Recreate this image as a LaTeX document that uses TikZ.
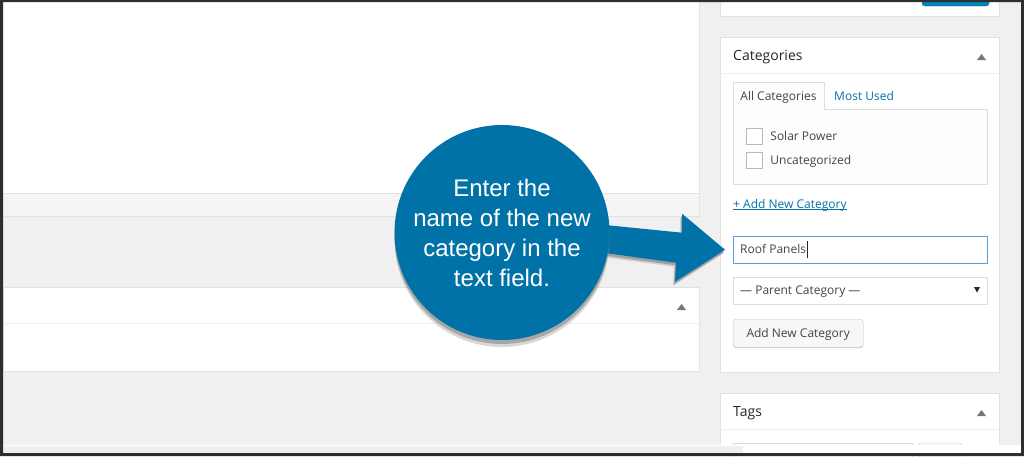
\documentclass[tikz,border=0pt]{standalone}
\usepackage{fontspec}
\setmainfont{Open Sans}
\newfontfamily\calloutfont{Liberation Sans}
\usetikzlibrary{positioning,shadows}

\definecolor{wpbg}{HTML}{F0F0F0}
\definecolor{wpline}{HTML}{E2E2E2}
\definecolor{wpsep}{HTML}{EEEEEE}
\definecolor{wpfoot}{HTML}{F5F5F5}
\definecolor{wppanel}{HTML}{FDFDFD}
\definecolor{wpblue}{HTML}{0073AA}
\definecolor{wptext}{HTML}{444444}
\definecolor{wphead}{HTML}{23282D}
\definecolor{wpfocus}{HTML}{5B9DD9}
\definecolor{wpgray}{HTML}{72777C}
\definecolor{wpbtn}{HTML}{0085BA}
\definecolor{wpbtnline}{HTML}{006799}
\definecolor{btnfill}{HTML}{F7F7F7}
\definecolor{btnline}{HTML}{CCCCCC}
\definecolor{tabline}{HTML}{DDDDDD}
\definecolor{boxline}{HTML}{B4B9BE}
\definecolor{wpframe}{HTML}{2E2E2E}
\definecolor{calloutblue}{HTML}{0072A8}

\tikzset{
  postbox/.style={fill=white, draw=wpline},
  toggle/.style={fill=wpgray},
  sidetext/.style={text=wptext, font=\fontsize{12}{14}\selectfont, inner sep=0pt,
    text height=8.5pt, text depth=0pt},
  headtext/.style={text=wphead, font=\fontsize{14}{16}\selectfont, inner sep=0pt,
    text height=9.5pt, text depth=0pt},
  checkbox/.style={draw=boxline, fill=white, minimum size=16pt, inner sep=0pt},
  inputbox/.style={draw=tabline, fill=white, minimum width=254pt, minimum height=27pt, inner sep=0pt},
  wpbutton/.style={draw=btnline, fill=btnfill, rounded corners=3pt, minimum width=130pt,
    minimum height=28pt, text=wptext, font=\fontsize{12}{14}\selectfont,
    text height=8.5pt, text depth=0pt,
    drop shadow={shadow xshift=0pt, shadow yshift=-1pt, opacity=1, fill=btnline}},
  callouttext/.style={text=white, font=\calloutfont\fontsize{24}{30}\selectfont, align=center, inner sep=0pt},
  calloutshade/.style={drop shadow={shadow xshift=0pt, shadow yshift=-7pt, opacity=.3},
    drop shadow={shadow xshift=0pt, shadow yshift=-4pt, opacity=.55}},
  arrowshade/.style={drop shadow={shadow xshift=-2pt, shadow yshift=-4pt, opacity=.3},
    drop shadow={shadow xshift=-1pt, shadow yshift=-2.5pt, opacity=.6}},
}

\begin{document}
\begin{tikzpicture}[x=1pt,y=-1pt]
\useasboundingbox (0,0) rectangle (1024,456);
\fill[wpbg] (0,0) rectangle (1024,456);

% main column
\fill[white] (3,0) rectangle (699,193);
\fill[wpfoot] (3,193) rectangle (699,216);
\draw[wpline] (3,193) -- (699,193);
\draw[wpline] (699,0) -- (699,216) -- (3,216);
\draw[postbox] (3,287) rectangle (699,371);
\draw[wpsep] (3,323) -- (699,323);
\fill[toggle, shift={(681.5,307)}] (-4.5,3) -- (4.5,3) -- (0,-3) -- cycle;

% side column: publish box
\draw[postbox] (720,-2) rectangle (999,16);
\draw[fill=wpbtn, draw=wpbtnline, rounded corners=3pt] (922,-5) rectangle (989,6);

% categories box
\draw[postbox] (720,37) rectangle (999,372);
\node[headtext, anchor=west] (cathead) at (733,56) {Categories};
\draw[wpsep] (720,73) -- (999,73);
\fill[toggle, shift={(981.5,57)}] (-4.5,3) -- (4.5,3) -- (0,-3) -- cycle;

\draw[tabline, fill=wppanel] (733,109) rectangle (987,184);
\fill[wppanel] (733.5,82) rectangle (823.5,110);
\draw[tabline] (733,109.5) |- (824,82) -- (824,109.5);
\node[sidetext] (alltab) at (778.5,96) {All Categories};
\node[sidetext, text=wpblue, anchor=west] (mostused) at (834,96) {Most Used};

\node[checkbox] (solarbox) at (754,136) {};
\node[sidetext, right=8pt of solarbox] (solar) {Solar Power};
\node[checkbox, below=8pt of solarbox] (uncatbox) {};
\node[sidetext, right=8pt of uncatbox] (uncat) {Uncategorized};

\node[sidetext, text=wpblue, anchor=west] (addlink) at (733,204) {+ Add New Category};
\draw[wpblue, line width=.8pt] ([yshift=-1.5pt]addlink.base west) -- ([yshift=-1.5pt]addlink.base east);

\node[inputbox, draw=wpfocus, anchor=north west] (roofbox) at (733,236) {};
\node[sidetext, anchor=west] (rooftext) at ([xshift=7pt]roofbox.west) {Roof Panels};
\draw[wphead, line width=.8pt] ([xshift=1pt]rooftext.east) ++(0,-9) -- ++(0,17);

\node[inputbox, anchor=north west] (parentbox) at (733,277) {};
\node[sidetext, anchor=west] (parent) at ([xshift=7pt]parentbox.west) {— Parent Category —};
\fill[wphead, shift={(977,290)}] (-3,-3) -- (3,-3) -- (0,2.5) -- cycle;

\node[wpbutton, anchor=north west] (addbtn) at (733,319) {Add New Category};

% tags box
\draw[postbox] (720,393) rectangle (999,453);
\node[headtext, anchor=west] (tagshead) at (733,412) {Tags};
\draw[wpsep] (720,429) -- (999,429);
\fill[toggle, shift={(981.5,413)}] (-4.5,3) -- (4.5,3) -- (0,-3) -- cycle;
\draw[tabline, fill=white] (733,443) rectangle (912,460);
\draw[btnline, fill=btnfill, rounded corners=3pt] (918,443) rectangle (962,460);

% bottom strip
\fill[wpbg] (3,445) rectangle (743,453);
\draw[white] (3,445.5) -- (743,445.5);
\fill[white] (743,445) rectangle (1021,453);

% callout
\coordinate (tip) at ([xshift=-8pt]roofbox.west);
\node[circle, minimum size=215pt, inner sep=0pt] (callout) at (502,232.5) {};
\fill[calloutblue, arrowshade] ([shift={(-4.5,-7.5)}]callout.east) -- ([shift={(-43,-17)}]tip)
  -- ([shift={(-43,-36)}]tip) -- (tip) -- ([shift={(-50,32)}]tip)
  -- ([shift={(-49,13)}]tip) -- ([shift={(-4.5,20.5)}]callout.east) -- cycle;
\fill[calloutblue, calloutshade] (callout.center) circle (107.5);
\node[callouttext, below=54pt of callout.north, anchor=north] (calltext)
  {Enter the\\name of the new\\category in the\\text field.};

% window frame
\fill[wpframe, even odd rule] (0,0) rectangle (1024,456) (3,2) rectangle (1021,453);
\end{tikzpicture}
\end{document}
